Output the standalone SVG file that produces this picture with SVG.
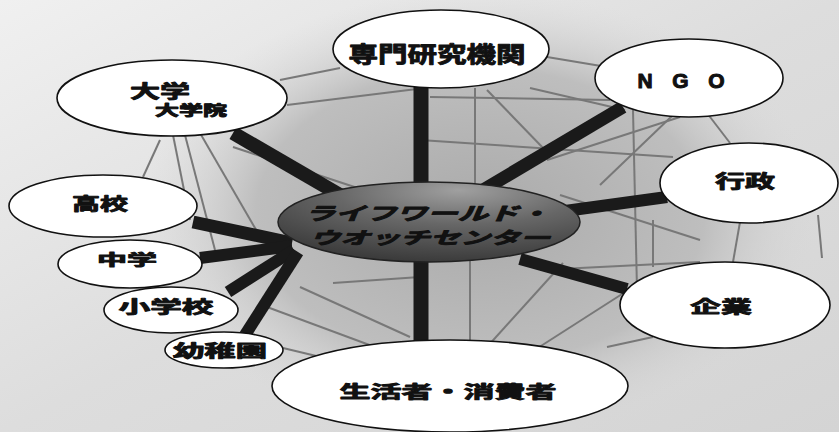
<svg xmlns="http://www.w3.org/2000/svg" width="839" height="432" viewBox="0 0 839 432">
<defs>
<linearGradient id="bg" x1="0" y1="0" x2="1" y2="1">
<stop offset="0" stop-color="#f0f0f0"/>
<stop offset="0.5" stop-color="#dddddd"/>
<stop offset="1" stop-color="#d4d4d4"/>
</linearGradient>
<radialGradient id="sphere" cx="0.5" cy="0.5" r="0.5">
<stop offset="0" stop-color="#aaaaaa"/>
<stop offset="0.65" stop-color="#bebebe"/>
<stop offset="1" stop-color="#dadada" stop-opacity="0"/>
</radialGradient>
<radialGradient id="hub" cx="0.6" cy="0.15" r="0.9" fx="0.6" fy="0.1">
<stop offset="0" stop-color="#a0a0a0"/>
<stop offset="0.45" stop-color="#676767"/>
<stop offset="1" stop-color="#363636"/>
</radialGradient>
<style>
.node{fill:#ffffff;stroke:#111111;stroke-width:1.6}
.mesh{stroke:#787878;stroke-width:2;fill:none}
.spoke{stroke:#1a1a1a;stroke-linecap:butt}
.lbl{font-family:"Noto Sans CJK JP","Noto Sans CJK SC",sans-serif;font-weight:bold;fill:#111111;stroke:#111111;stroke-width:0.9;stroke-linejoin:round;text-anchor:middle;dominant-baseline:central}
.lat{font-family:"Liberation Sans",Arial,sans-serif;font-weight:bold;fill:#111111;stroke:#111111;stroke-width:1;stroke-linejoin:round;text-anchor:middle;dominant-baseline:central}
</style>
</defs>
<rect x="0" y="0" width="839" height="432" fill="url(#bg)"/>
<ellipse cx="480" cy="215" rx="345" ry="225" fill="url(#sphere)"/>
<g id="connectors">
<g id="mesh">
<line class="mesh" x1="280" y1="80" x2="340" y2="68"/>
<line class="mesh" x1="287" y1="105" x2="425" y2="88"/>
<line class="mesh" x1="233" y1="147" x2="400" y2="202"/>
<line class="mesh" x1="160" y1="140" x2="143" y2="177"/>
<line class="mesh" x1="173" y1="135" x2="190" y2="220"/>
<line class="mesh" x1="185" y1="135" x2="215" y2="250"/>
<line class="mesh" x1="200" y1="133" x2="262" y2="240"/>
<line class="mesh" x1="547" y1="57" x2="607" y2="67"/>
<line class="mesh" x1="530" y1="88" x2="625" y2="110"/>
<line class="mesh" x1="430" y1="97" x2="610" y2="100"/>
<line class="mesh" x1="475" y1="88" x2="475" y2="185"/>
<line class="mesh" x1="420" y1="140" x2="673" y2="157"/>
<line class="mesh" x1="487" y1="90" x2="545" y2="150"/>
<line class="mesh" x1="633" y1="110" x2="637" y2="290"/>
<line class="mesh" x1="707" y1="113" x2="730" y2="143"/>
<line class="mesh" x1="673" y1="115" x2="600" y2="185"/>
<line class="mesh" x1="680" y1="117" x2="547" y2="160"/>
<line class="mesh" x1="487" y1="347" x2="563" y2="263"/>
<line class="mesh" x1="530" y1="353" x2="633" y2="287"/>
<line class="mesh" x1="607" y1="347" x2="653" y2="337"/>
<line class="mesh" x1="470" y1="220" x2="470" y2="345"/>
<line class="mesh" x1="653" y1="220" x2="653" y2="267"/>
<line class="mesh" x1="740" y1="222" x2="733" y2="262"/>
<line class="mesh" x1="818" y1="215" x2="822" y2="258"/>
<line class="mesh" x1="300" y1="287" x2="410" y2="337"/>
<line class="mesh" x1="267" y1="307" x2="383" y2="350"/>
<line class="mesh" x1="333" y1="283" x2="420" y2="277"/>
<line class="mesh" x1="283" y1="348" x2="333" y2="360"/>
<line class="mesh" x1="560" y1="195" x2="700" y2="240"/>
<line class="mesh" x1="540" y1="270" x2="700" y2="262"/>
</g>
<g id="spokes">
<line class="spoke" x1="421" y1="86" x2="421" y2="190" stroke-width="15"/>
<line class="spoke" x1="421" y1="255" x2="421" y2="342" stroke-width="15"/>
<line class="spoke" x1="623" y1="107" x2="483" y2="190" stroke-width="13"/>
<line class="spoke" x1="667" y1="197" x2="565" y2="211" stroke-width="12"/>
<line class="spoke" x1="627" y1="289" x2="520" y2="259" stroke-width="12"/>
<line class="spoke" x1="233" y1="133" x2="340" y2="195" stroke-width="14"/>
<line class="spoke" x1="193" y1="222" x2="292" y2="243" stroke-width="13"/>
<line class="spoke" x1="200" y1="258" x2="292" y2="246" stroke-width="12"/>
<line class="spoke" x1="228" y1="292" x2="294" y2="250" stroke-width="12"/>
<line class="spoke" x1="245" y1="335" x2="298" y2="252" stroke-width="12"/>
</g>
</g>
<g id="center">
<ellipse cx="429" cy="222" rx="151" ry="40" fill="url(#hub)" stroke="#222222" stroke-width="1.5"/>
<text class="lbl" x="427" y="212" font-size="18" font-style="italic" textLength="245" lengthAdjust="spacingAndGlyphs">ライフワールド・</text>
<text class="lbl" x="430" y="236" font-size="17" font-style="italic" textLength="240" lengthAdjust="spacingAndGlyphs">ウオッチセンター</text>
</g>
<g id="senmon">
<ellipse class="node" cx="441" cy="49" rx="108" ry="39"/>
<text class="lbl" x="437" y="52" font-size="22" textLength="177" lengthAdjust="spacingAndGlyphs">専門研究機関</text>
</g>
<g id="ngo">
<ellipse class="node" cx="689" cy="78" rx="94" ry="39"/>
<text class="lat" x="681" y="80" font-size="21" textLength="87">NGO</text>
</g>
<g id="gyosei">
<ellipse class="node" cx="749" cy="183" rx="89" ry="40"/>
<text class="lbl" x="745" y="180" font-size="18" textLength="60" lengthAdjust="spacingAndGlyphs">行政</text>
</g>
<g id="kigyo">
<ellipse class="node" cx="725" cy="305" rx="105" ry="43"/>
<text class="lbl" x="721" y="305" font-size="17" textLength="62" lengthAdjust="spacingAndGlyphs">企業</text>
</g>
<g id="seikatsusha">
<ellipse class="node" cx="450" cy="386" rx="178" ry="46"/>
<text class="lbl" x="448" y="390" font-size="17" textLength="217" lengthAdjust="spacingAndGlyphs">生活者・消費者</text>
</g>
<g id="daigaku">
<ellipse class="node" cx="172" cy="98" rx="115" ry="38"/>
<text class="lbl" x="160" y="90" font-size="18" textLength="60" lengthAdjust="spacingAndGlyphs">大学</text>
<text class="lbl" x="191" y="109" font-size="13.5" textLength="72" lengthAdjust="spacingAndGlyphs">大学院</text>
</g>
<g id="koko">
<ellipse class="node" cx="103" cy="206" rx="94" ry="31"/>
<text class="lbl" x="100" y="202" font-size="17" textLength="56" lengthAdjust="spacingAndGlyphs">高校</text>
</g>
<g id="chugaku">
<ellipse class="node" cx="130" cy="264" rx="72" ry="24"/>
<text class="lbl" x="127" y="258" font-size="15" textLength="60" lengthAdjust="spacingAndGlyphs">中学</text>
</g>
<g id="shogakko">
<ellipse class="node" cx="171" cy="310" rx="67" ry="23"/>
<text class="lbl" x="166" y="305" font-size="17" textLength="95" lengthAdjust="spacingAndGlyphs">小学校</text>
</g>
<g id="yochien">
<ellipse class="node" cx="224" cy="350" rx="59" ry="18"/>
<text class="lbl" x="220" y="349" font-size="17" textLength="94" lengthAdjust="spacingAndGlyphs">幼稚園</text>
</g>
</svg>
